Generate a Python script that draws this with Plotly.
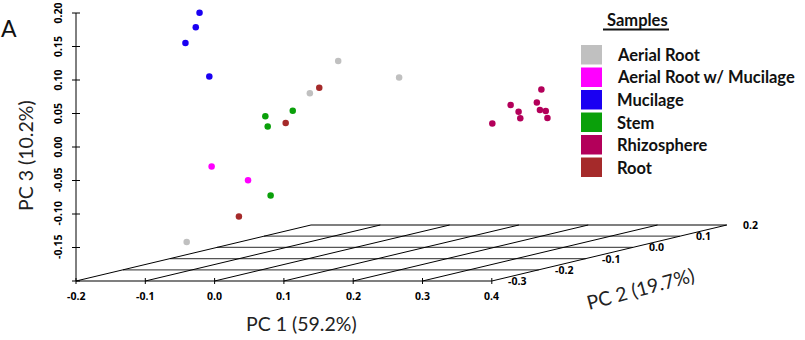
import plotly.graph_objects as go

# ---- PCA scores (PC1, PC2, PC3) per sample group ----
groups = ["Aerial Root", "Aerial Root w/ Mucilage", "Mucilage", "Stem", "Rhizosphere", "Root"]
colors = ["#c0c0c0", "#ff00ff", "#1a00f2", "#0aa00a", "#b3005a", "#a52a2a"]

pc1_aerial = [-0.059, -0.005, -0.066, -0.142]
pc2_aerial = [0.05, 0.10, 0.00, -0.15]
pc3_aerial = [0.070, 0.037, 0.030, -0.167]

pc1_armuc = [-0.045, -0.006]
pc2_armuc = [-0.24, -0.22]
pc3_armuc = [-0.039, -0.063]

pc1_mucilage = [-0.076, -0.095, -0.076, -0.089]
pc2_mucilage = [-0.22, -0.20, -0.25, -0.18]
pc3_mucilage = [0.187, 0.162, 0.147, 0.085]

pc1_stem = [-0.076, -0.059, -0.050, 0.013]
pc2_stem = [-0.08, -0.10, -0.06, -0.20]
pc3_stem = [0.009, -0.003, 0.014, -0.089]

pc1_rhizo = [0.302, 0.278, 0.303, 0.319, 0.299, 0.309, 0.327, 0.349, 0.365]
pc2_rhizo = [-0.05, -0.08, -0.10, -0.12, -0.15, -0.07, -0.09, -0.11, -0.13]
pc3_rhizo = [0.044, 0.026, 0.019, 0.013, 0.010, 0.028, 0.020, 0.022, 0.015]

pc1_root = [-0.066, -0.067, -0.087]
pc2_root = [0.02, -0.05, -0.12]
pc3_root = [0.035, -0.006, -0.134]

scores = [
    (pc1_aerial, pc2_aerial, pc3_aerial),
    (pc1_armuc, pc2_armuc, pc3_armuc),
    (pc1_mucilage, pc2_mucilage, pc3_mucilage),
    (pc1_stem, pc2_stem, pc3_stem),
    (pc1_rhizo, pc2_rhizo, pc3_rhizo),
    (pc1_root, pc2_root, pc3_root),
]

# ---- axis ticks ----
x_ticks = [-0.2, -0.1, 0.0, 0.1, 0.2, 0.3, 0.4]
y_ticks = [-0.3, -0.2, -0.1, 0.0, 0.1, 0.2]
z_ticks = [-0.20, -0.15, -0.10, -0.05, 0.00, 0.05, 0.10, 0.15, 0.20]
x_labels = ["-0.2", "-0.1", "0.0", "0.1", "0.2", "0.3", "0.4"]
y_labels = ["-0.3", "-0.2", "-0.1", "0.0", "0.1", "0.2"]
z_labels = ["", "-0.15", "-0.10", "-0.05", "0.00", "0.05", "0.10", "0.15", "0.20"]

# ---- oblique (scatterplot3d-style) projection ----
W, H = 805, 340
PX_U, PX_V = 693.0, 670.0          # pixels per data unit (horizontal / vertical)
ORIGIN_PX = (76.0, 281.0)          # screen position of the front-left-bottom corner
X0, Y0, Z0 = x_ticks[0], y_ticks[0], z_ticks[0]
KX, KZ = 470.0 / PX_U, 112.0 / PX_V  # depth shift per unit of PC2


def proj(x, y, z):
    return x + (y - Y0) * KX, z + (y - Y0) * KZ


def proj_list(xs, ys, zs):
    us, vs = [], []
    for x, y, z in zip(xs, ys, zs):
        u, v = proj(x, y, z)
        us.append(u)
        vs.append(v)
    return us, vs


fig = go.Figure()

# floor grid: lines of constant PC2 and constant PC1
gu, gv = [], []
for y in y_ticks:
    for x in (x_ticks[0], x_ticks[-1]):
        u, v = proj(x, y, Z0)
        gu.append(u)
        gv.append(v)
    gu.append(None)
    gv.append(None)
fig.add_trace(go.Scatter(x=gu, y=gv, mode="lines", line=dict(color="#555555", width=1.3),
                         hoverinfo="skip", showlegend=False))
du, dv = [], []
for x in x_ticks:
    for y in (y_ticks[0], y_ticks[-1]):
        u, v = proj(x, y, Z0)
        du.append(u)
        dv.append(v)
    du.append(None)
    dv.append(None)
fig.add_trace(go.Scatter(x=du, y=dv, mode="lines", line=dict(color="black", width=1),
                         hoverinfo="skip", showlegend=False))

# vertical PC3 axis with crossing ticks, and PC1 ticks
au, av = [], []
u0, v0 = proj(X0, Y0, z_ticks[0])
u1, v1 = proj(X0, Y0, z_ticks[-1])
au += [u0, u1, None]
av += [v0, v1, None]
tz = 4.0 / PX_U
for z in z_ticks:
    u, v = proj(X0, Y0, z)
    au += [u - tz, u + tz, None]
    av += [v, v, None]
tx = 3.0 / PX_V
for x in x_ticks:
    u, v = proj(x, Y0, Z0)
    au += [u, u, None]
    av += [v - tx, v + tx, None]
fig.add_trace(go.Scatter(x=au, y=av, mode="lines", line=dict(color="black", width=1),
                         hoverinfo="skip", showlegend=False))

# sample points
for name, col, (xs, ys, zs) in zip(groups, colors, scores):
    us, vs = proj_list(xs, ys, zs)
    fig.add_trace(go.Scatter(x=us, y=vs, mode="markers", name=name,
                             marker=dict(color=col, size=6.5, line=dict(width=0)),
                             showlegend=False))

tick_font = dict(family="Open Sans, Liberation Sans, sans-serif", size=10.5, color="black")
title_font = dict(family="Lato, Open Sans, sans-serif", size=19.5, color="#222222")

ann = []
# PC3 tick labels (rotated)
for z, lab in zip(z_ticks, z_labels):
    if not lab:
        continue
    u, v = proj(X0, Y0, z)
    ann.append(dict(x=u - 18.5 / PX_U, y=v, xref="x", yref="y", text="<b>%s</b>" % lab,
                    textangle=-90, showarrow=False, font=tick_font,
                    xanchor="center", yanchor="middle"))
# PC1 tick labels
for x, lab in zip(x_ticks, x_labels):
    u, v = proj(x, Y0, Z0)
    ann.append(dict(x=u, y=v - 15 / PX_V, xref="x", yref="y", text="<b>%s</b>" % lab,
                    showarrow=False, font=tick_font, xanchor="center", yanchor="middle"))
# PC2 tick labels at the end of each floor line
for y, lab in zip(y_ticks, y_labels):
    u, v = proj(x_ticks[-1], y, Z0)
    ann.append(dict(x=u + 14 / PX_U, y=v, xref="x", yref="y", text="<b>%s</b>" % lab,
                    showarrow=False, font=tick_font, xanchor="left", yanchor="middle"))


def px(xp, yp):
    return xp / W, 1 - yp / H


# axis titles and panel letter
for text, (xp, yp), ang in [("PC 1 (59.2%)", (301, 323), 0),
                            ("PC 3 (10.2%)", (26, 156), -90),
                            ("PC 2 (19.7%)", (640, 288), -15)]:
    xx, yy = px(xp, yp)
    ann.append(dict(x=xx, y=yy, xref="paper", yref="paper", text=text, textangle=ang,
                    showarrow=False, font=title_font, xanchor="center", yanchor="middle"))
xx, yy = px(9, 28)
ann.append(dict(x=xx, y=yy, xref="paper", yref="paper", text="A", showarrow=False,
                font=dict(family="Lato, Open Sans, sans-serif", size=23, color="#111111"),
                xanchor="center", yanchor="middle"))

# custom legend
legend_font = dict(family="Lato, Open Sans, sans-serif", size=16.5, color="#111111")
xx, yy = px(637, 20)
ann.append(dict(x=xx, y=yy, xref="paper", yref="paper", text="<b>Samples</b>",
                showarrow=False, font=legend_font, xanchor="center", yanchor="middle"))
shapes = []
x0p, y0p = px(603, 29.5)
x1p, _ = px(669, 29.5)
shapes.append(dict(type="line", xref="paper", yref="paper", x0=x0p, x1=x1p, y0=y0p, y1=y0p,
                   line=dict(color="#111111", width=2)))
row_top = 45.0
row_step = 22.5
for i, (name, col) in enumerate(zip(groups, colors)):
    top = row_top + i * row_step
    ax0, ay0 = px(581, top)
    ax1, ay1 = px(602, top + 19.5)
    shapes.append(dict(type="rect", xref="paper", yref="paper", x0=ax0, x1=ax1, y0=ay1, y1=ay0,
                       fillcolor=col, line=dict(width=0)))
    tx_, ty_ = px(615, top + 10)
    ann.append(dict(x=tx_, y=ty_, xref="paper", yref="paper", text="<b>%s</b>" % name,
                    showarrow=False, font=legend_font, xanchor="left", yanchor="middle"))

x_range = [X0 - ORIGIN_PX[0] / PX_U, X0 + (W - ORIGIN_PX[0]) / PX_U]
y_range = [Z0 - (H - ORIGIN_PX[1]) / PX_V, Z0 + ORIGIN_PX[1] / PX_V]

fig.update_layout(
    width=W, height=H,
    margin=dict(l=0, r=0, t=0, b=0, pad=0),
    paper_bgcolor="white", plot_bgcolor="white",
    xaxis=dict(range=x_range, visible=False, fixedrange=True),
    yaxis=dict(range=y_range, visible=False, fixedrange=True),
    annotations=ann, shapes=shapes, showlegend=False,
)

fig.write_html("out.html", config={"displayModeBar": False})
